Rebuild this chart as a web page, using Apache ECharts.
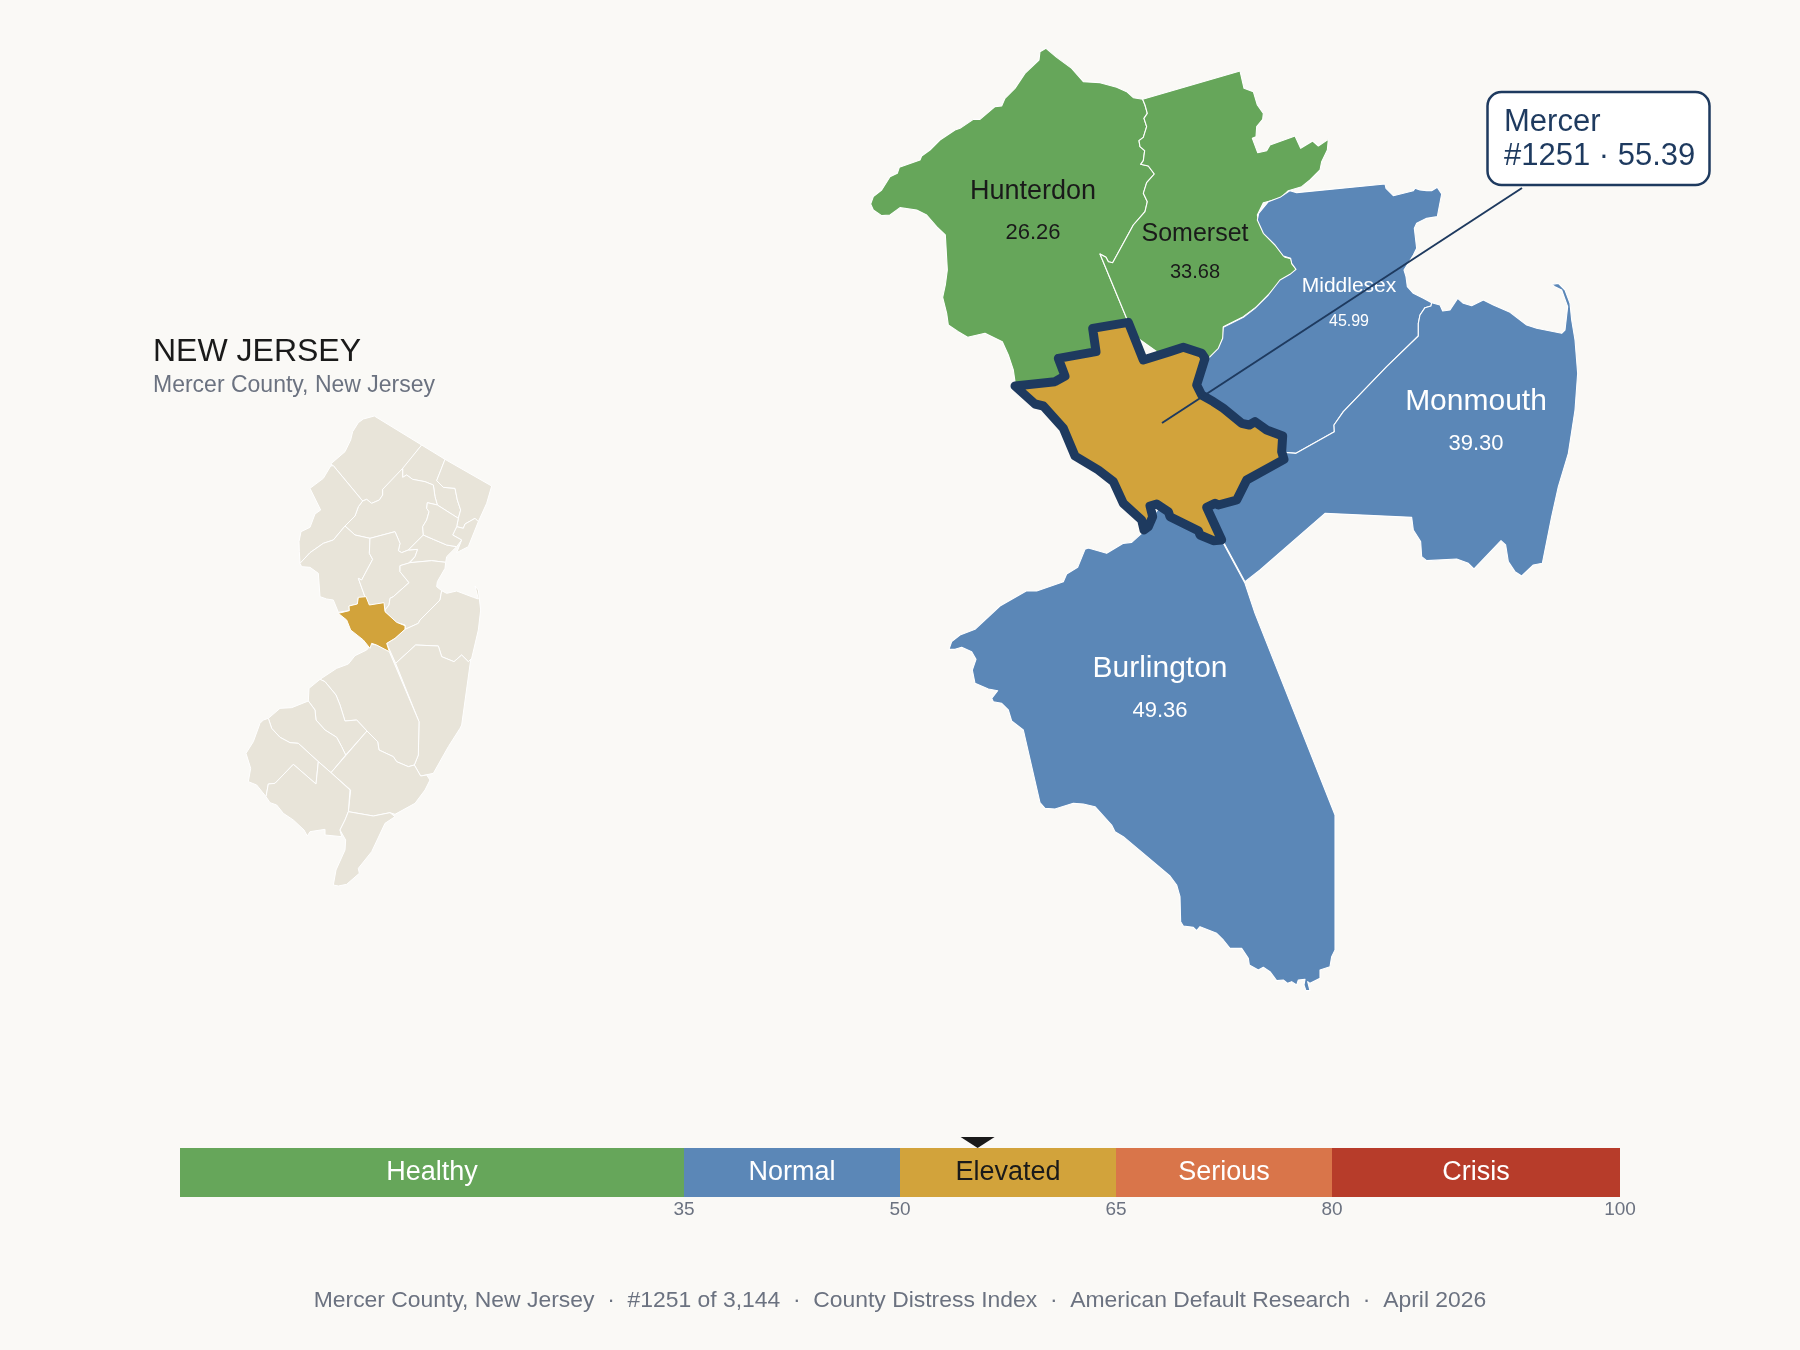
<!DOCTYPE html>
<html>
<head>
<meta charset="utf-8">
<title>Mercer County, New Jersey</title>
<script src="https://cdn.jsdelivr.net/npm/echarts@6/dist/echarts.min.js"></script>
<style>
    html, body { margin: 0; padding: 0; background: #FAF9F6; }
    #main { width: 1800px; height: 1350px; }
</style>
</head>
<body>
<div id="main"></div>
<script>
// band scale
var bandNames = ['Healthy', 'Normal', 'Elevated', 'Serious', 'Crisis'];
var bandWidths = [35, 15, 15, 15, 20];
var bandColors = ['#66A65A', '#5B87B7', '#D2A33B', '#D9754A', '#B73C2A'];
var bandTextColors = ['#FFFFFF', '#FFFFFF', '#1A1A1A', '#FFFFFF', '#FFFFFF'];
var tickValues = [35, 50, 65, 80, 100];

// county scores
var countyNames = ['Hunterdon', 'Somerset', 'Middlesex', 'Monmouth', 'Burlington', 'Mercer'];
var countyValues = [26.26, 33.68, 45.99, 39.30, 49.36, 55.39];
var focusCounty = 'Mercer';
var focusRank = '#1251';

// outlines, in crop pixels (crop origin, 3x)
var hunterdonLine = [618,55, 650,82, 695,115, 730,155, 780,158, 830,172, 860,185, 880,203, 908,208, 915,225, 922,250, 912,265, 920,290, 910,322, 897,332, 900,350, 914,362, 910,392, 902,403, 925,408, 943,432, 920,458, 910,490, 922,515, 915,545, 880,585, 818,698, 805,695, 798,682, 780,672, 862,870, 880,915, 800,1000, 700,1020, 660,1070, 530,1065, 525,1055, 520,1020, 505,975, 487,935, 435,910, 383,922, 355,905, 325,885, 320,850, 308,802, 316,765, 322,720, 316,615, 290,590, 260,555, 230,540, 180,533, 150,555, 125,557, 100,540, 92,522, 100,500, 125,480, 150,440, 172,430, 178,412, 240,390, 245,378, 270,360, 300,330, 345,300, 360,295, 400,268, 420,268, 465,230, 485,228, 495,205, 525,175, 555,130, 597,90, 600,65];
var somersetLine = [908,208, 1200,123, 1203,125, 1212,175, 1240,185, 1252,225, 1270,250, 1268,268, 1250,290, 1248,320, 1237,325, 1253,368, 1280,362, 1290,345, 1365,318, 1382,355, 1418,333, 1435,348, 1465,328, 1462,360, 1445,395, 1440,420, 1410,450, 1385,470, 1345,482, 1320,505, 1290,513, 1270,518, 1252,555, 1255,570, 1270,605, 1310,650, 1335,682, 1353,686, 1356,702, 1368,716, 1362,730, 1332,745, 1300,780, 1250,830, 1210,860, 1150,890, 1150,920, 1135,965, 1100,990, 1000,1000, 880,915, 862,870, 780,672, 798,682, 805,695, 818,698, 880,585, 915,545, 922,515, 910,490, 920,458, 943,432, 925,408, 902,403, 910,392, 914,362, 900,350, 897,332, 910,322, 920,290, 912,265, 922,250, 915,225];
var middlesexLine = [290,338, 555,312, 558,325, 580,347, 640,332, 645,325, 660,330, 680,332, 695,332, 712,322, 725,342, 712,410, 680,415, 650,430, 643,445, 650,505, 640,525, 612,570, 618,590, 622,620, 640,640, 670,655, 695,668, 693,678, 675,683, 660,705, 655,730, 655,768, 560,860, 430,995, 402,1035, 403,1055, 288,1120, 255,1117, 200,1100, 100,1020, -15,950, -15,880, 10,835, 25,835, 55,805, 68,775, 70,742, 130,712, 165,685, 205,645, 240,600, 270,583, 288,568, 275,550, 272,535, 250,528, 225,495, 190,460, 172,420, 176,400, 205,365, 240,352, 270,332];
var monmouthLine = [695,668, 720,675, 728,693, 750,690, 773,655, 790,670, 815,677, 850,660, 880,675, 930,697, 980,735, 1010,745, 1085,760, 1095,750, 1103,680, 1085,630, 1065,620, 1055,613, 1075,610, 1095,630, 1110,670, 1115,720, 1125,780, 1133,880, 1125,990, 1105,1120, 1075,1220, 1055,1310, 1027,1450, 1000,1455, 965,1488, 945,1475, 925,1445, 917,1395, 903,1382, 822,1467, 805,1450, 770,1437, 680,1442, 665,1430, 662,1385, 640,1350, 635,1312, 375,1300, 180,1470, 135,1505, 70,1385, 0,1280, 0,1200, 150,1140, 255,1117, 288,1120, 403,1055, 402,1035, 430,995, 560,860, 655,768, 655,730, 660,705, 675,683, 693,678];
var burlingtonLine = [880,70, 945,190, 975,280, 1215,885, 1215,1290, 1205,1310, 1200,1340, 1170,1350, 1170,1375, 1140,1390, 1133,1385, 1140,1412, 1128,1412, 1122,1395, 1125,1378, 1105,1380, 1100,1395, 1085,1385, 1073,1390, 1060,1380, 1040,1382, 1020,1355, 1000,1342, 985,1350, 958,1335, 955,1315, 935,1285, 900,1285, 880,1260, 860,1240, 810,1220, 800,1232, 790,1222, 760,1218, 752,1205, 750,1130, 740,1095, 720,1068, 580,950, 555,935, 545,915, 495,860, 460,852, 430,850, 375,867, 345,865, 330,848, 280,630, 245,603, 235,570, 215,550, 190,545, 185,535, 203,512, 175,507, 135,490, 127,450, 138,418, 125,395, 95,382, 75,388, 57,388, 65,365, 90,345, 135,328, 210,258, 290,212, 320,213, 400,185, 410,162, 443,142, 465,88, 475,84, 530,100, 580,70, 605,67, 635,40, 660,15, 675,-20, 690,-40, 780,0, 830,20];
var mercerLine = [105,258, 225,245, 255,228, 235,175, 348,155, 338,85, 445,67, 490,180, 570,155, 610,142, 665,160, 675,175, 650,255, 665,285, 700,305, 730,325, 785,370, 808,375, 825,365, 860,390, 908,408, 905,455, 912,478, 800,540, 770,600, 715,615, 705,610, 680,622, 725,720, 700,722, 660,705, 655,692, 570,650, 565,635, 530,612, 510,618, 518,650, 505,680, 492,690, 485,660, 430,610, 400,545, 355,510, 285,468, 250,385, 190,318, 165,312];

var detailLines = [hunterdonLine, somersetLine, middlesexLine, monmouthLine, burlingtonLine, mercerLine];
var detailOrigins = [[840, 30], [840, 30], [1200, 80], [1200, 80], [930, 520], [980, 300]];

// small state map, north half of the crop
var stateNorth = {
    'Sussex': [433,48, 575,135, 520,205, 458,268, 458,285, 448,300, 425,310, 410,298, 398,303, 310,197, 302,192, 345,155, 362,120, 368,95, 385,68, 400,57],
    'Passaic': [575,135, 645,178, 620,242, 640,262, 675,265, 682,300, 692,330, 685,355, 622,315, 615,290, 610,255, 585,245, 548,238, 530,225, 518,232, 518,205],
    'Bergen': [645,178, 785,258, 770,310, 745,365, 735,355, 705,372, 700,385, 680,380, 685,355, 692,330, 682,300, 675,265, 640,262, 620,242],
    'Hudson': [745,365, 715,440, 680,458, 695,420, 668,405, 680,380, 700,385, 705,372, 735,355],
    'Morris': [518,205, 518,232, 530,225, 548,238, 585,245, 610,255, 615,290, 622,315, 592,308, 590,325, 597,335, 590,360, 578,380, 580,405, 535,450, 515,458, 505,452, 510,430, 495,395, 420,415, 375,405, 345,378, 375,348, 385,320, 398,303, 410,298, 425,310, 448,300, 458,285, 458,268],
    'Warren': [302,198, 310,197, 398,303, 385,320, 375,348, 345,378, 310,420, 280,430, 240,458, 210,490, 208,455, 207,425, 213,395, 240,382, 255,342, 272,330, 240,265, 280,235],
    'Hunterdon': [345,378, 375,405, 420,415, 418,460, 428,478, 395,540, 385,535, 412,610, 385,592, 382,612, 357,618, 358,632, 325,637, 310,600, 290,597, 270,590, 265,520, 240,502, 215,500, 210,490, 240,458, 280,430, 310,420],
    'Somerset': [420,415, 495,395, 510,430, 505,452, 515,458, 535,450, 563,448, 555,470, 535,490, 510,497, 510,515, 537,548, 490,590, 480,595, 477,615, 465,630, 462,612, 418,615, 412,610, 385,535, 395,540, 428,478, 418,460],
    'Union': [535,450, 580,405, 610,418, 650,435, 680,440, 670,450, 650,470, 647,487, 605,482, 540,488, 555,470, 563,448],
    'Essex': [592,308, 622,315, 685,355, 680,380, 668,405, 695,420, 680,440, 650,435, 610,418, 580,405, 578,380, 590,360, 597,335, 590,325],
    'Middlesex': [510,497, 540,488, 605,482, 647,487, 645,505, 622,545, 620,560, 635,572, 630,600, 570,660, 565,670, 525,688, 525,675, 500,667, 465,635, 465,630, 477,615, 480,595, 490,590, 537,548, 510,515],
    'Monmouth': [635,572, 650,580, 680,573, 730,592, 745,597, 735,558, 745,570, 752,630, 745,690, 725,775, 715,785, 695,765, 672,785, 635,770, 625,738, 557,735, 497,790, 470,730, 495,715, 525,688, 565,670, 570,660, 630,600],
    'Ocean': [497,790, 557,735, 625,738, 635,770, 672,785, 695,765, 715,785, 725,775, 722,780, 695,975, 690,985, 655,1040, 610,1120, 572,1128, 553,1095, 565,1065, 567,965]
};
// south half of the crop
var stateSouth = {
    'Burlington': [478,35, 567,245, 565,345, 553,375, 535,380, 500,365, 490,350, 447,330, 443,305, 411,273, 380,240, 345,243, 330,195, 318,165, 285,125, 270,118, 320,85, 355,72, 375,47, 410,30, 425,12, 440,15],
    'Camden': [237,145, 270,118, 285,125, 318,165, 330,195, 345,243, 380,240, 411,273, 347,345, 335,320, 320,292, 285,270, 258,240, 255,210, 235,183],
    'Gloucester': [115,235, 150,205, 185,203, 235,183, 255,210, 258,240, 285,270, 320,292, 335,320, 347,345, 303,398, 265,365, 205,310, 180,308, 150,292, 125,265],
    'Atlantic': [411,273, 443,305, 447,330, 490,350, 500,365, 535,380, 553,375, 572,408, 590,405, 600,420, 585,450, 555,490, 495,523, 480,518, 430,528, 355,515, 362,450, 303,398],
    'Salem': [115,235, 125,265, 150,292, 180,308, 205,310, 265,365, 258,432, 190,373, 135,430, 115,432, 108,470, 80,435, 55,425, 62,385, 48,340, 70,305, 90,250, 100,240],
    'Cumberland': [108,470, 115,432, 135,430, 190,373, 258,432, 265,365, 303,398, 360,450, 355,515, 345,540, 330,570, 335,590, 285,585, 285,568, 240,575, 232,588, 222,570, 190,540, 160,520, 140,495, 120,488],
    'Cape May': [355,515, 430,528, 480,518, 495,530, 465,550, 425,635, 385,685, 388,700, 350,733, 325,738, 310,735, 318,690, 345,630, 347,600, 330,570, 345,540]
};
var stateFocus = [325,640, 358,632, 357,618, 382,612, 385,592, 408,590, 418,615, 462,608, 465,635, 500,667, 525,677, 525,688, 495,715, 470,730, 478,755, 440,735, 425,730, 420,745, 400,720, 362,690, 350,660];

// label placement on the detail map
var labelCenters = { Hunterdon: [1033, 212.5], Somerset: [1195, 253.5], Middlesex: [1349, 304], Monmouth: [1476, 422.5], Burlington: [1160, 689.5] };
var labelSizes = { Hunterdon: [27, 22, 41], Somerset: [25, 20, 38], Middlesex: [21, 16, 35], Monmouth: [30, 22, 42], Burlington: [30, 22, 42] };

var FONT = '"Liberation Sans", Arial, sans-serif';
var NAVY = '#1E3A5F';
var DARK = '#1A1A1A';
var GREY = '#6B7280';
var LAND = '#E8E4D9';
var PAGE_H = 1350;

function scoreColor(v) {
    var top = 0;
    for (var i = 0; i < bandWidths.length; i++) {
        top += bandWidths[i];
        if (v < top) return bandColors[i];
    }
    return bandColors[bandColors.length - 1];
}

// crop pixels -> page pixels, y flipped because geo treats it as latitude
function toRing(origin, pts) {
    var ring = [];
    for (var i = 0; i < pts.length; i += 2) {
        ring.push([origin[0] + pts[i] / 3, PAGE_H - (origin[1] + pts[i + 1] / 3)]);
    }
    ring.push(ring[0]);
    return ring;
}

function feature(name, ring, cp) {
    var f = { type: 'Feature', properties: { name: name }, geometry: { type: 'Polygon', coordinates: [ring] } };
    if (cp) f.properties.cp = [cp[0], PAGE_H - cp[1]];
    return f;
}

// center and size that make 1 map unit = 1 page pixel
function fitLayout(features) {
    var x0 = Infinity, x1 = -Infinity, y0 = Infinity, y1 = -Infinity;
    features.forEach(function (f) {
        f.geometry.coordinates[0].forEach(function (p) {
            x0 = Math.min(x0, p[0]); x1 = Math.max(x1, p[0]);
            y0 = Math.min(y0, p[1]); y1 = Math.max(y1, p[1]);
        });
    });
    return {
        center: [(x0 + x1) / 2, PAGE_H - (y0 + y1) / 2],
        size: Math.max(x1 - x0, y1 - y0)
    };
}

var detailFeatures = countyNames.map(function (name, i) {
    return feature(name, toRing(detailOrigins[i], detailLines[i]), labelCenters[name]);
});

var stateFeatures = [];
Object.keys(stateNorth).forEach(function (name) {
    stateFeatures.push(feature(name, toRing([230, 400], stateNorth[name])));
});
Object.keys(stateSouth).forEach(function (name) {
    stateFeatures.push(feature(name, toRing([230, 640], stateSouth[name])));
});
stateFeatures.push(feature(focusCounty, toRing([230, 400], stateFocus)));

echarts.registerMap('detail', { type: 'FeatureCollection', features: detailFeatures });
echarts.registerMap('state', { type: 'FeatureCollection', features: stateFeatures });

var detailFit = fitLayout(detailFeatures);
var stateFit = fitLayout(stateFeatures);

var detailRegions = countyNames.map(function (name, i) {
    var focus = name === focusCounty;
    var sizes = labelSizes[name];
    var textColor = scoreColor(countyValues[i]) === bandColors[0] ? DARK : '#FFFFFF';
    var region = {
        name: name,
        itemStyle: {
            areaColor: scoreColor(countyValues[i]),
            borderColor: focus ? NAVY : '#FFFFFF',
            borderWidth: focus ? 9 : 1.1,
            borderJoin: 'round'
        },
        label: { show: false }
    };
    if (!focus) {
        region.label = {
            show: true,
            formatter: '{n|' + name + '}\n{v|' + countyValues[i].toFixed(2) + '}',
            rich: {
                n: { fontFamily: FONT, fontSize: sizes[0], color: textColor, lineHeight: sizes[2], align: 'center' },
                v: { fontFamily: FONT, fontSize: sizes[1], color: textColor, lineHeight: sizes[2], align: 'center' }
            }
        };
    }
    return region;
});

var focusValue = countyValues[countyNames.indexOf(focusCounty)];

var barSeries = bandNames.map(function (name, i) {
    return {
        name: name,
        type: 'bar',
        stack: 'scale',
        barWidth: 49,
        silent: true,
        itemStyle: { color: bandColors[i] },
        label: { show: true, position: 'inside', formatter: '{a}', color: bandTextColors[i], fontFamily: FONT, fontSize: 27 },
        data: [bandWidths[i]]
    };
});

var myChart = echarts.init(document.getElementById('main'), null, { renderer: 'canvas' });

var option = {
    backgroundColor: '#FAF9F6',
    animation: false,
    title: [
        { text: 'NEW JERSEY', left: 153, top: 336, padding: 0, textStyle: { fontFamily: FONT, fontSize: 32, fontWeight: 'normal', color: DARK } },
        { text: 'Mercer County, New Jersey', left: 153, top: 374, padding: 0, textStyle: { fontFamily: FONT, fontSize: 23, fontWeight: 'normal', color: GREY } },
        {
            text: 'Mercer County, New Jersey  ·  #1251 of 3,144  ·  County Distress Index  ·  American Default Research  ·  April 2026',
            left: 'center', top: 1289, padding: 0,
            textStyle: { fontFamily: FONT, fontSize: 22.9, fontWeight: 'normal', color: GREY }
        }
    ],
    geo: [
        {
            map: 'detail',
            silent: true,
            roam: false,
            aspectScale: 1,
            layoutCenter: detailFit.center,
            layoutSize: detailFit.size,
            label: { show: false },
            regions: detailRegions
        },
        {
            map: 'state',
            silent: true,
            roam: false,
            aspectScale: 1,
            layoutCenter: stateFit.center,
            layoutSize: stateFit.size,
            label: { show: false },
            itemStyle: { areaColor: LAND, borderColor: '#FFFFFF', borderWidth: 1 },
            regions: [{ name: focusCounty, itemStyle: { areaColor: scoreColor(focusValue), borderColor: '#FFFFFF', borderWidth: 1 } }]
        }
    ],
    grid: { left: 180, top: 1148, width: 1440, height: 49 },
    xAxis: {
        type: 'value',
        min: 0,
        max: 100,
        axisLine: { show: false },
        axisTick: { show: false },
        splitLine: { show: false },
        axisLabel: { customValues: tickValues, color: GREY, fontFamily: FONT, fontSize: 19, margin: 3 }
    },
    yAxis: { type: 'category', data: ['Index'], show: false },
    series: barSeries.concat([
        {
            name: focusCounty,
            type: 'scatter',
            symbol: 'triangle',
            symbolRotate: 180,
            symbolSize: [34, 11],
            symbolOffset: [0, -30],
            silent: true,
            itemStyle: { color: DARK, opacity: 1 },
            data: [[focusValue, 0]]
        },
        {
            type: 'lines',
            coordinateSystem: 'geo',
            geoIndex: 0,
            silent: true,
            z: 5,
            symbol: 'none',
            lineStyle: { color: NAVY, width: 2, opacity: 1, curveness: 0 },
            data: [{ coords: [[1162, PAGE_H - 423], [1522, PAGE_H - 188]] }]
        }
    ]),
    graphic: [
        {
            type: 'rect',
            z: 10,
            silent: true,
            shape: { x: 1487.5, y: 92, width: 222, height: 93, r: 14 },
            style: { fill: '#FFFFFF', stroke: NAVY, lineWidth: 2.5 }
        },
        {
            type: 'text',
            z: 11,
            silent: true,
            x: 1504,
            y: 106,
            style: {
                text: focusCounty + '\n' + focusRank + ' · ' + focusValue.toFixed(2),
                fill: NAVY,
                font: '31px ' + FONT,
                lineHeight: 33.5
            }
        }
    ]
};

myChart.setOption(option);
</script>
</body>
</html>
